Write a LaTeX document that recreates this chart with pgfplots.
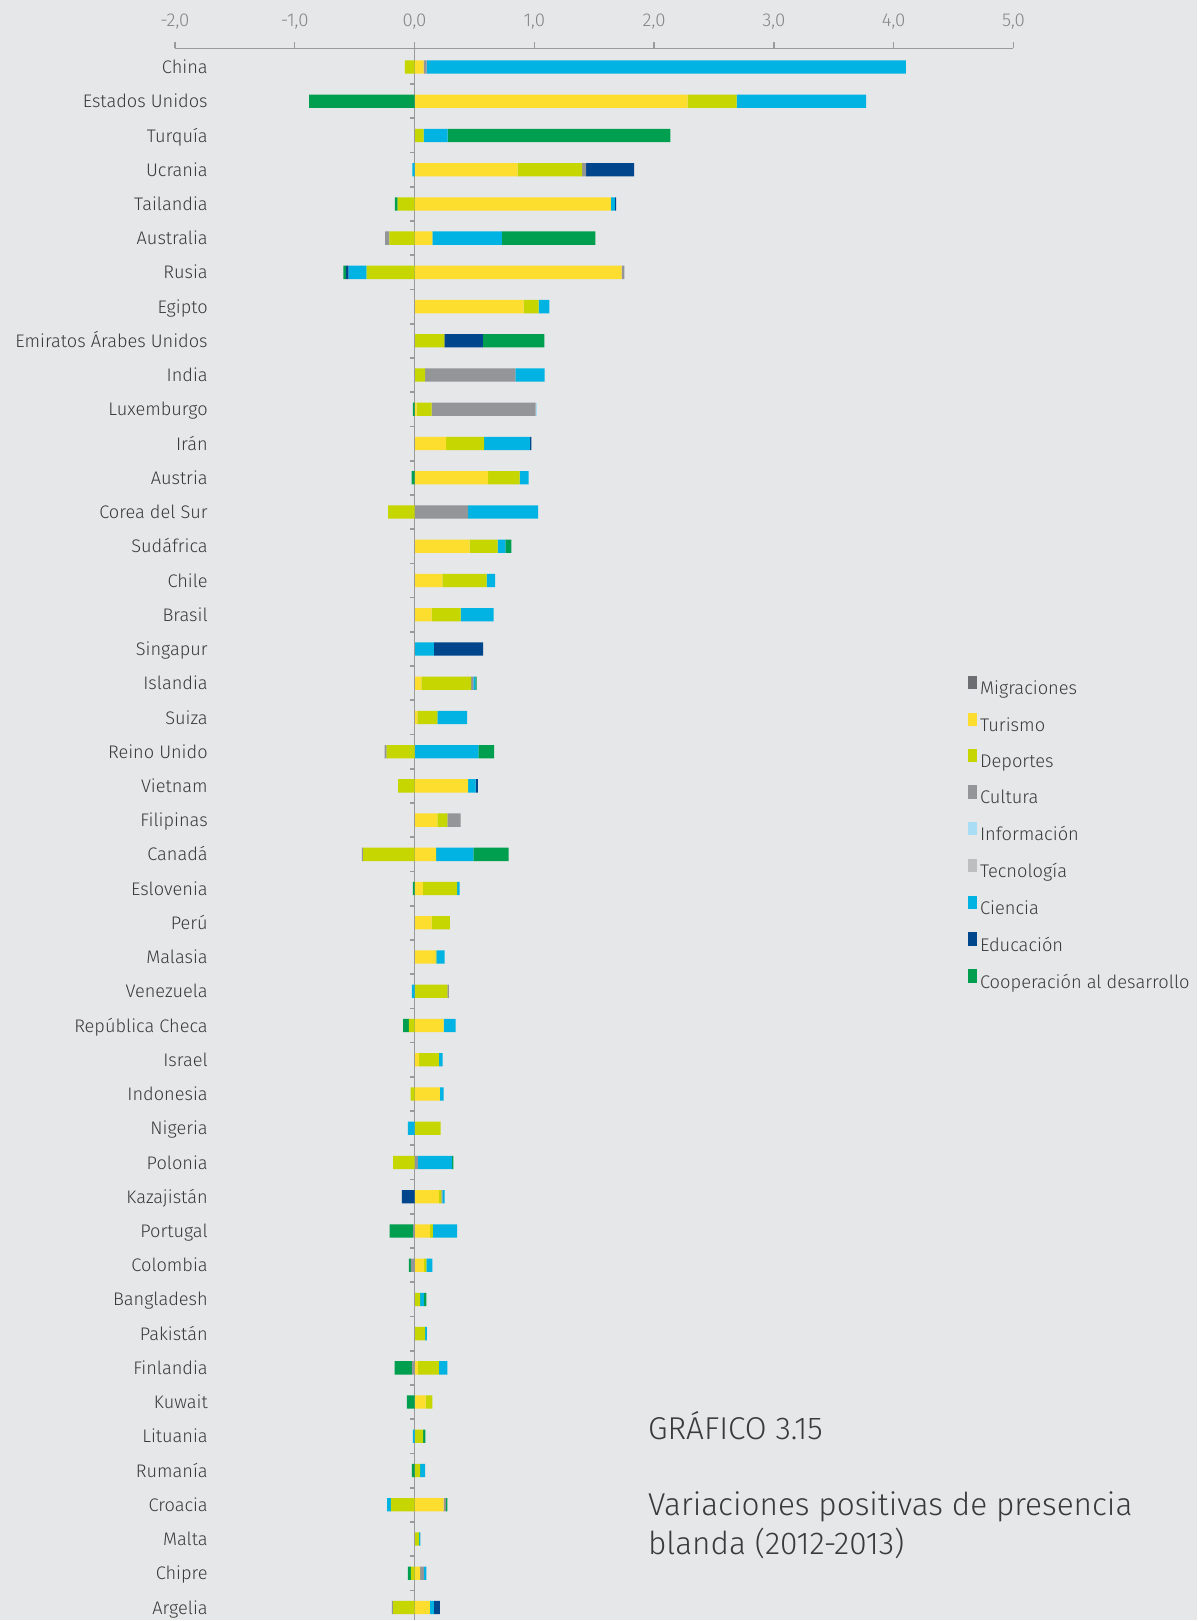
\documentclass[border=0pt]{standalone}
\usepackage{fontspec}
\setmainfont{Fira Sans}[UprightFont={* Light}]
\usepackage{pgfplots}
\usepackage{pgfplotstable}
\pgfplotsset{compat=1.18}

\definecolor{bg}{HTML}{E6E7E8}
\definecolor{cMig}{HTML}{6D6E71}
\definecolor{cTur}{HTML}{FDDD2E}
\definecolor{cDep}{HTML}{C5D600}
\definecolor{cCul}{HTML}{939598}
\definecolor{cInf}{HTML}{A9DDF6}
\definecolor{cTec}{HTML}{BCBEC0}
\definecolor{cCie}{HTML}{00B3E3}
\definecolor{cEdu}{HTML}{00468C}
\definecolor{cCoo}{HTML}{009E4F}
\definecolor{axgray}{HTML}{9A9A9A}
\definecolor{txt}{HTML}{3A3A3A}
\definecolor{ticktxt}{HTML}{858585}

% positive parts
\pgfplotstableread{
idx mig tur dep cul inf tec cie edu coo
0 0 0.076 0 0.026 0 0 4.0 0 0
1 0 2.28 0.41 0 0 0 1.08 0 0
2 0 0 0.076 0 0 0 0.20 0 1.86
3 0 0.86 0.54 0.033 0 0 0 0.40 0
4 0 1.64 0 0 0 0 0.033 0.01 0
5 0 0.15 0 0 0 0 0.58 0 0.78
6 0 1.73 0 0.023 0 0 0 0 0
7 0 0.911 0.125 0 0 0 0.089 0 0
8 0 0 0.25 0 0 0 0 0.32 0.514
9 0 0 0.089 0.753 0 0 0.244 0 0
10 0 0.017 0.125 0.87 0.014 0 0 0 0
11 0 0.264 0.317 0 0 0 0.383 0.011 0
12 0 0.614 0.264 0 0 0 0.075 0 0
13 0 0 0 0.447 0 0 0.586 0 0
14 0 0.461 0.233 0 0 0 0.064 0 0.05
15 0 0.233 0.369 0 0 0 0.072 0 0
16 0 0.142 0.244 0 0 0 0.275 0 0
17 0 0 0 0 0 0 0.161 0.411 0
18 0 0.058 0.414 0.019 0 0 0.017 0 0.011
19 0 0.025 0.167 0 0 0 0.247 0 0
20 0 0 0 0 0 0 0.533 0 0.131
21 0 0.447 0 0 0 0 0.064 0.019 0
22 0 0.192 0.083 0.111 0 0 0 0 0
23 0 0.181 0 0 0 0 0.311 0 0.294
24 0 0.069 0.286 0 0 0 0.022 0 0
25 0 0.142 0.153 0 0 0 0 0 0
26 0 0.175 0.008 0 0 0 0.069 0 0
27 0 0 0.275 0.011 0 0 0 0 0
28 0 0.244 0 0 0 0 0.1 0 0
29 0 0.039 0.164 0 0 0 0.031 0 0
30 0 0.211 0 0 0 0 0.033 0 0
31 0 0 0.219 0 0 0 0 0 0
32 0 0 0 0.028 0 0 0.283 0 0.014
33 0 0.203 0.022 0.008 0 0 0.019 0 0
34 0 0.131 0.022 0 0 0 0.203 0 0
35 0 0.081 0.019 0 0 0 0.05 0 0
36 0 0 0.047 0 0 0 0.031 0 0.022
37 0 0 0.089 0 0 0 0.014 0 0
38 0 0.028 0.175 0 0 0 0.072 0 0
39 0 0.092 0.058 0 0 0 0 0 0
40 0 0 0.072 0 0 0 0 0 0.019
41 0 0 0.047 0 0 0 0.042 0 0
42 0 0.244 0 0.017 0 0 0 0 0.014
43 0 0 0.039 0 0 0 0.011 0 0
44 0 0.047 0 0.031 0 0 0.022 0 0
45 0 0.128 0 0 0 0 0.033 0.05 0
}\pos

% negative parts
\pgfplotstableread{
idx mig tur dep cul inf tec cie edu coo
0 0 0 -0.08 0 0 0 0 0 0
1 0 0 0 0 0 0 0 0 -0.88
2 0 0 0 0 0 0 0 0 0
3 0 0 0 0 0 0 -0.017 0 0
4 0 0 -0.14 0 0 0 0 0 -0.023
5 0 0 -0.21 -0.036 0 0 0 0 0
6 0 0 -0.40 0 0 0 -0.15 -0.02 -0.023
7 0 0 0 0 0 0 0 0 0
8 0 0 0 0 0 0 0 0 0
9 0 0 0 0 0 0 0 0 0
10 0 0 0 0 0 0 0 0 -0.014
11 0 0 0 0 0 0 0 0 0
12 0 0 0 0 0 0 0 0 -0.025
13 0 0 -0.22 0 0 0 0 0 0
14 0 0 0 0 0 0 0 0 0
15 0 0 0 0 0 0 0 0 0
16 0 0 0 0 0 0 0 0 0
17 0 0 0 0 0 0 0 0 0
18 0 0 0 0 0 0 0 0 0
19 0 0 0 0 0 0 0 0 0
20 0 0 -0.233 -0.017 0 0 0 0 0
21 0 0 -0.136 0 0 0 0 0 0
22 0 0 0 0 0 0 0 0 0
23 0 0 -0.428 -0.011 0 0 0 0 0
24 0 0 0 0 0 0 0 0 -0.014
25 0 0 0 0 0 0 0 0 0
26 0 0 0 0 0 0 0 0 0
27 0 0 0 0 0 0 -0.022 0 0
28 0 0 -0.047 0 0 0 0 0 -0.047
29 0 0 0 0 0 0 0 0 0
30 0 0 -0.033 0 0 0 0 0 0
31 0 0 0 0 0 0 -0.056 0 0
32 0 0 -0.178 0 0 0 0 0 0
33 0 0 0 0 0 0 0 -0.106 0
34 0 0 0 -0.011 0 0 0 0 -0.197
35 0 0 0 -0.03 0 0 0 0 -0.017
36 0 0 0 0 0 0 0 0 0
37 0 0 0 0 0 0 0 0 0
38 0 0 0 -0.022 0 0 0 0 -0.144
39 0 0 0 0 0 0 0 0 -0.064
40 0 0 0 0 0 0 -0.014 0 0
41 0 0 0 0 0 0 0 0 -0.022
42 0 0 -0.197 0 0 0 -0.031 0 0
43 0 0 0 0 0 0 0 0 0
44 0 0 -0.031 0 0 0 0 0 -0.025
45 0 0 -0.178 -0.011 0 0 0 0 0
}\neg

\pgfplotsset{
  base/.style={
    scale only axis, width=419.5bp, height=786.35bp,
    xmin=-2, xmax=5, ymin=-0.546, ymax=45.37, y dir=reverse,
    xbar stacked, bar width=6.65bp, clip=false,
    at={(87.5bp,786.35bp)}, anchor=north west,
  },
  sq/.style={legend image code/.code={\fill[#1] (0bp,0bp) rectangle (4.65bp,6.65bp);}},
}

\begin{document}
\begin{tikzpicture}
\fill[bg] (0,0) rectangle (599bp,810.5bp);
\begin{axis}[base,
  axis x line*=top, axis y line*=left,
  y axis line style={draw=none},
  x axis line style={axgray, line width=0.7bp},
  xtick={-2,-1,0,1,2,3,4,5},
  xticklabels={{-2,0},{-1,0},{0,0},{1,0},{2,0},{3,0},{4,0},{5,0}},
  tick align=outside,
  x tick style={axgray, line width=0.7bp},
  major tick length=3bp,
  xticklabel style={anchor=base, inner sep=0pt, yshift=8bp, text=ticktxt, font=\fontsize{9.3bp}{11bp}\selectfont},
  ytick={0,...,45},
  y tick style={draw=none},
  yticklabels={China, Estados Unidos, Turquía, Ucrania, Tailandia, Australia, Rusia, Egipto, Emiratos Árabes Unidos, India, Luxemburgo, Irán, Austria, Corea del Sur, Sudáfrica, Chile, Brasil, Singapur, Islandia, Suiza, Reino Unido, Vietnam, Filipinas, Canadá, Eslovenia, Perú, Malasia, Venezuela, República Checa, Israel, Indonesia, Nigeria, Polonia, Kazajistán, Portugal, Colombia, Bangladesh, Pakistán, Finlandia, Kuwait, Lituania, Rumanía, Croacia, Malta, Chipre, Argelia},
  yticklabel style={anchor=base east, inner sep=0pt, xshift=19.6bp, yshift=-3.3bp, text=txt, font=\fontsize{9.1bp}{11bp}\selectfont},
  legend style={at={(axis description cs:0.945,0.601)}, anchor=north west, draw=none, fill=none, inner sep=0pt,
    row sep=7.5bp, column sep=1.5bp, text=txt,
    nodes={inner sep=0pt, font=\fontsize{9.15bp}{10bp}\selectfont}},
  legend cell align=left,
]
\addplot[fill=cMig, draw=none, sq=cMig] table[x=mig, y=idx] {\pos};
\addplot[fill=cTur, draw=none, sq=cTur] table[x=tur, y=idx] {\pos};
\addplot[fill=cDep, draw=none, sq=cDep] table[x=dep, y=idx] {\pos};
\addplot[fill=cCul, draw=none, sq=cCul] table[x=cul, y=idx] {\pos};
\addplot[fill=cInf, draw=none, sq=cInf] table[x=inf, y=idx] {\pos};
\addplot[fill=cTec, draw=none, sq=cTec] table[x=tec, y=idx] {\pos};
\addplot[fill=cCie, draw=none, sq=cCie] table[x=cie, y=idx] {\pos};
\addplot[fill=cEdu, draw=none, sq=cEdu] table[x=edu, y=idx] {\pos};
\addplot[fill=cCoo, draw=none, sq=cCoo] table[x=coo, y=idx] {\pos};
\legend{Migraciones, Turismo, Deportes, Cultura, Información, Tecnología, Ciencia, Educación, Cooperación al desarrollo}
\end{axis}
\begin{axis}[base, hide axis]
\addplot[fill=cMig, draw=none] table[x=mig, y=idx] {\neg};
\addplot[fill=cTur, draw=none] table[x=tur, y=idx] {\neg};
\addplot[fill=cDep, draw=none] table[x=dep, y=idx] {\neg};
\addplot[fill=cCul, draw=none] table[x=cul, y=idx] {\neg};
\addplot[fill=cInf, draw=none] table[x=inf, y=idx] {\neg};
\addplot[fill=cTec, draw=none] table[x=tec, y=idx] {\neg};
\addplot[fill=cCie, draw=none] table[x=cie, y=idx] {\neg};
\addplot[fill=cEdu, draw=none] table[x=edu, y=idx] {\neg};
\addplot[fill=cCoo, draw=none] table[x=coo, y=idx] {\neg};
\draw[axgray, line width=0.85bp] (axis cs:0,-0.546) -- (axis cs:0,45.37);
\pgfplotsinvokeforeach{0,...,44}{\draw[axgray, line width=0.85bp] (axis cs:0,#1.5) -- ([xshift=-2.3bp]axis cs:0,#1.5);}
\end{axis}
\node[anchor=base west, inner sep=0pt, text=txt, font=\fontsize{15.8bp}{18bp}\selectfont] at (324bp,90.5bp) {GRÁFICO 3.15};
\node[anchor=base west, inner sep=0pt, text=txt, font=\fontsize{15.8bp}{18bp}\selectfont] at (324bp,52.15bp) {Variaciones positivas de presencia};
\node[anchor=base west, inner sep=0pt, text=txt, font=\fontsize{15.8bp}{18bp}\selectfont] at (324bp,33bp) {blanda (2012-2013)};
\end{tikzpicture}
\end{document}
